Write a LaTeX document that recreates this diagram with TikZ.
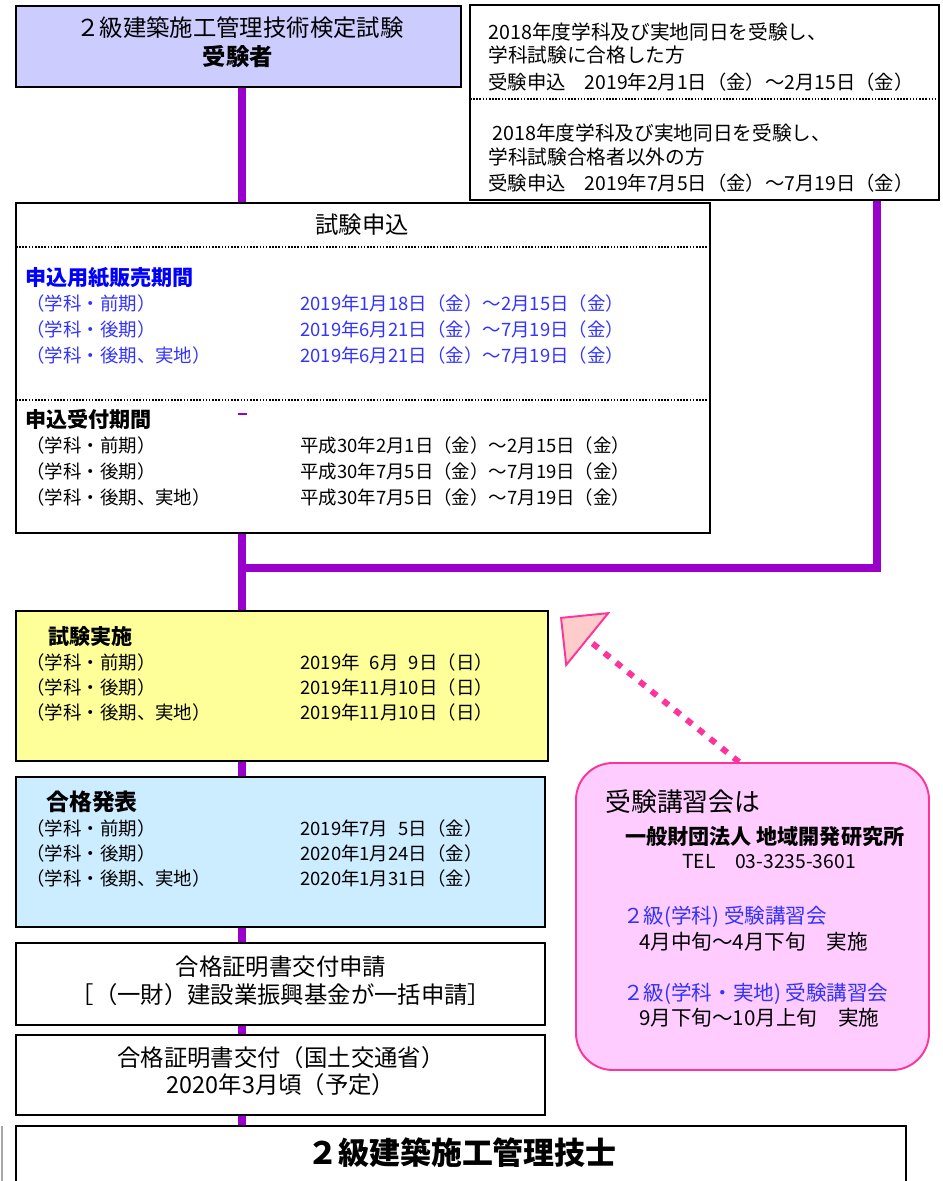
\documentclass[tikz,border=0pt]{standalone}
\usepackage{fontspec}
\setmainfont{Noto Sans CJK JP}
\usetikzlibrary{fit,arrows.meta}
\definecolor{flowpurple}{HTML}{9900CC}
\definecolor{boxlav}{HTML}{CCCCFF}
\definecolor{boxyel}{HTML}{FFFF99}
\definecolor{boxsky}{HTML}{CCECFF}
\definecolor{callfill}{HTML}{FFCCFF}
\definecolor{callline}{HTML}{FF3399}
\definecolor{tipfill}{HTML}{FFCCCC}
\definecolor{headblue}{HTML}{0000FF}
\definecolor{rowblue}{HTML}{3333FF}

\begin{document}
\begin{tikzpicture}[x=0.02cm,y=-0.02cm,
  box/.style={draw,line width=1.1pt,inner sep=0pt},
  flow/.style={draw=flowpurple,line width=4.6pt},
  sep/.style={line width=0.9pt,dash pattern=on 0.9pt off 0.9pt},
  row/.style={anchor=west,inner sep=0pt,font=\fontsize{10.5}{12}\selectfont},
  notice/.style={anchor=west,inner sep=0pt,font=\fontsize{11.2}{13}\selectfont},
  head/.style={anchor=west,inner sep=0pt,font=\fontsize{12}{14}\selectfont\bfseries},
  title/.style={inner sep=0pt,font=\fontsize{13.3}{16}\selectfont},
  callrow/.style={anchor=west,inner sep=0pt,font=\fontsize{11.7}{13}\selectfont},
  dotlink/.style={draw=callline,line width=3.4pt,dash pattern=on 4pt off 4.6pt,
    -{Triangle[length=0.72cm,width=1.42cm,fill=tipfill,line width=1.1pt]}}]
\useasboundingbox (0,0) rectangle (943,1181);

% applicant
\node[box,fill=boxlav,fit={(16,6) (461,87)}] (kentei) {};
\node[title] (kt1) at (240,28) {２級建築施工管理技術検定試験};
\node[title,font=\fontsize{13.3}{16}\selectfont\bfseries] (kt2) at (238,57) {受験者};

% same-day examinees
\node[box,fit={(470,5) (939,200)}] (doujitsu) {};
\draw[sep] (470,99) -- (939,99);
\node[notice] (dj1) at (488,32) {2018年度学科及び実地同日を受験し、};
\node[notice] (dj2) at (488,55) {学科試験に合格した方};
\node[row,font=\fontsize{11}{13}\selectfont] (dj3) at (488,82) {受験申込　2019年2月1日（金）～2月15日（金）};
\node[notice] (dj4) at (492,133) {2018年度学科及び実地同日を受験し、};
\node[notice] (dj5) at (488,157) {学科試験合格者以外の方};
\node[row,font=\fontsize{11}{13}\selectfont] (dj6) at (488,183) {受験申込　2019年7月5日（金）～7月19日（金）};

% application
\node[box,fit={(16,203) (710,533)}] (moushikomi) {};
\node[title] (mk0) at (362,225) {試験申込};
\draw[sep] (16,247) -- (710,247);
\node[head,text=headblue] (hb0) at (25,278) {申込用紙販売期間};
\node[row,text=rowblue] (hb1) at (26,303) {（学科・前期）};
\node[row,text=rowblue] (hb1d) at (300,303) {2019年1月18日（金）～2月15日（金）};
\node[row,text=rowblue] (hb2) at (26,329) {（学科・後期）};
\node[row,text=rowblue] (hb2d) at (300,329) {2019年6月21日（金）～7月19日（金）};
\node[row,text=rowblue] (hb3) at (26,355) {（学科・後期、実地）};
\node[row,text=rowblue] (hb3d) at (300,355) {2019年6月21日（金）～7月19日（金）};
\draw[sep] (16,400) -- (710,400);
\draw[flowpurple,line width=0.6pt] (238,414) -- (247,414);
\node[head] (uk0) at (25,419) {申込受付期間};
\node[row] (uk1) at (26,445) {（学科・前期）};
\node[row] (uk1d) at (300,445) {平成30年2月1日（金）～2月15日（金）};
\node[row] (uk2) at (26,471) {（学科・後期）};
\node[row] (uk2d) at (300,471) {平成30年7月5日（金）～7月19日（金）};
\node[row] (uk3) at (26,497) {（学科・後期、実地）};
\node[row] (uk3d) at (300,497) {平成30年7月5日（金）～7月19日（金）};

% examination
\node[box,fill=boxyel,fit={(16,611) (548,761)}] (jisshi) {};
\node[head] (js0) at (48,636) {試験実施};
\node[row] (js1) at (26,662) {（学科・前期）};
\node[row] (js1d) at (300,662) {2019年\hphantom{1}6月\hphantom{1}9日（日）};
\node[row] (js2) at (26,687) {（学科・後期）};
\node[row] (js2d) at (300,687) {2019年11月10日（日）};
\node[row] (js3) at (26,712) {（学科・後期、実地）};
\node[row] (js3d) at (300,712) {2019年11月10日（日）};

% results
\node[box,fill=boxsky,fit={(16,777) (545,927)}] (happyou) {};
\node[head,font=\fontsize{13}{15}\selectfont\bfseries] (hp0) at (46,802) {合格発表};
\node[row] (hp1) at (26,828) {（学科・前期）};
\node[row] (hp1d) at (300,828) {2019年7月\hphantom{1}5日（金）};
\node[row] (hp2) at (26,853) {（学科・後期）};
\node[row] (hp2d) at (300,853) {2020年1月24日（金）};
\node[row] (hp3) at (26,878) {（学科・後期、実地）};
\node[row] (hp3d) at (300,878) {2020年1月31日（金）};

% certificate
\node[box,fit={(16,943) (545,1025)}] (shinsei) {};
\node[title] (ss1) at (281,967) {合格証明書交付申請};
\node[title] (ss2) at (281,995) {［（一財）建設業振興基金が一括申請］};
\node[box,fit={(16,1035) (545,1115)}] (koufu) {};
\node[title] (kf1) at (281,1058) {合格証明書交付（国土交通省）};
\node[title] (kf2) at (281,1085) {2020年3月頃（予定）};
\node[box,fit={(16,1126) (906,1200)}] (gishi) {};
\node[inner sep=0pt,font=\fontsize{17.6}{20}\selectfont\bfseries] (gishiT) at (462,1153) {２級建築施工管理技士};
\draw[gray!70,line width=0.6pt] (2,1126) -- (2,1181);

% seminar
\node[box,draw=callline,fill=callfill,rounded corners=21pt,fit={(576,763) (929,1070)}] (kosyu) {};
\node[callrow,font=\fontsize{14.7}{16}\selectfont] (ks0) at (605,802) {受験講習会は};
\node[callrow,font=\fontsize{12}{14}\selectfont\bfseries] (ks1) at (625,837) {一般財団法人 地域開発研究所};
\node[callrow,font=\fontsize{11}{13}\selectfont] (ks2) at (682,862) {TEL　03-3235-3601};
\node[callrow,text=rowblue] (ks3) at (623,917) {２級(学科) 受験講習会};
\node[callrow] (ks4) at (639,942) {4月中旬～4月下旬　実施};
\node[callrow,text=rowblue] (ks5) at (623,994) {２級(学科・実地) 受験講習会};
\node[callrow] (ks6) at (639,1018) {9月下旬～10月上旬　実施};
\coordinate (tip) at (560,617);
\draw[dotlink] (kosyu.95) -- (tip);

% purple flow
\coordinate (junc) at (242,568);
\coordinate (juncR) at (877,568);
\draw[flow] (kentei.south -| junc) -- (moushikomi.north -| junc);
\draw[flow] (doujitsu.south -| juncR) |- (junc);
\draw[flow] (moushikomi.south -| junc) -- (jisshi.north -| junc);
\draw[flow] (jisshi.south -| junc) -- (happyou.north -| junc);
\draw[flow] (happyou.south -| junc) -- (shinsei.north -| junc);
\draw[flow] (shinsei.south -| junc) -- (koufu.north -| junc);
\draw[flow] (koufu.south -| junc) -- (gishi.north -| junc);
\end{tikzpicture}
\end{document}
